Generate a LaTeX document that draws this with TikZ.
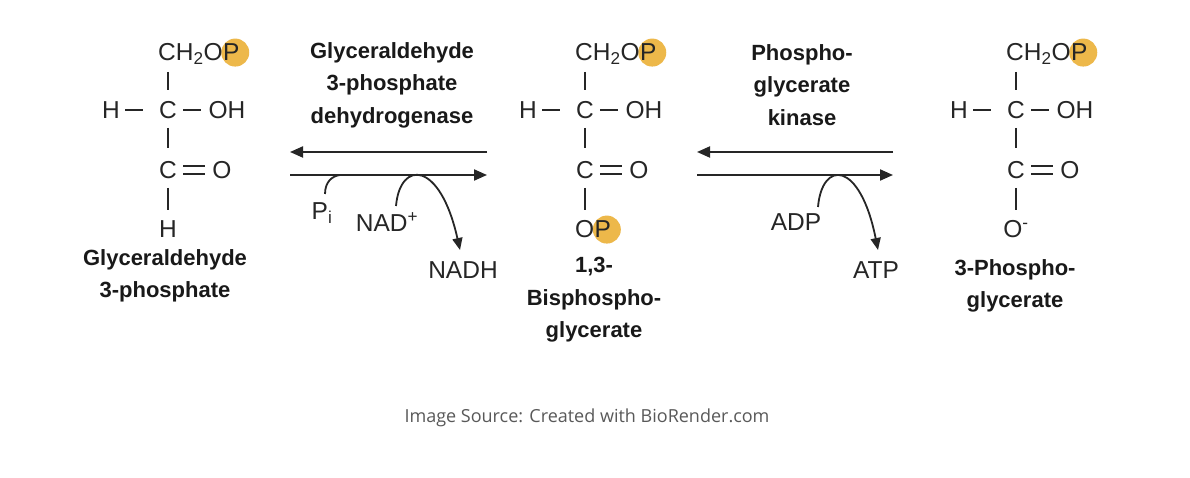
\documentclass[tikz,border=0pt]{standalone}
\usepackage{fontspec}
\setmainfont{Liberation Sans}
\newfontfamily\capfont{Open Sans}
\usetikzlibrary{arrows.meta}
\definecolor{pcol}{HTML}{EDB84A}
\tikzset{
 chem/.style={font=\fontsize{24.5}{26}\selectfont, text=black!85, inner sep=0pt},
 lbl/.style={font=\fontsize{22}{32.5}\selectfont\bfseries, align=center, text=black!90, inner sep=0pt},
 bond/.style={line width=1.3pt, black!85},
 rxn/.style={line width=2pt, black!85, -{Triangle[length=13pt,width=11pt]}},
 side/.style={line width=1.8pt, black!85},
 pdot/.style={circle, fill=pcol, minimum size=28pt, inner sep=0pt}
}
\newcommand{\mol}[3]{%
 \begin{scope}[shift={(#1,0)}]
 \node[chem, anchor=base west, text opacity=0] (top#2) at (-10,61) {CH\textsubscript{2}O};
 \node[chem, anchor=base west, text opacity=0] (tp#2) at (top#2.base east) {P};
 \node[pdot, xshift=4pt] (p#2) at (tp#2.center) {};
 \node[chem, anchor=base west] at (-10,61) {CH\textsubscript{2}O};
 \node[chem] at (tp#2.center) {P};
 \draw[bond] (0,72) -- (0,90);
 \node[chem] (h#2) at (-57,110) {H};
 \draw[bond] (-43,110) -- (-25,110);
 \node[chem] (c#2) at (0,110) {C};
 \draw[bond] (15,110) -- (33,110);
 \node[chem] (oh#2) at (59,110) {OH};
 \draw[bond] (0,128) -- (0,148);
 \node[chem] (cc#2) at (0,170) {C};
 \draw[bond] (15,166) -- (37,166) (15,174) -- (37,174);
 \node[chem] (o#2) at (54,170) {O};
 \draw[bond] (0,188) -- (0,210);
 #3
 \end{scope}}
\begin{document}
\begin{tikzpicture}[x=1pt,y=-1pt]
\path[use as bounding box, fill=white] (0,0) rectangle (1190,478);
\mol{168}{a}{\node[chem] (b1) at (0,229) {H};}
\mol{585}{b}{\node[chem, anchor=base west, text opacity=0] (bo) at (-10,238) {O};
 \node[chem, anchor=base west, text opacity=0] (bp0) at (bo.base east) {P};
 \node[pdot, xshift=4pt] (pb2) at (bp0.center) {};
 \node[chem, anchor=base west] at (-10,238) {O};
 \node[chem] (b2) at (bp0.center) {P};}
\mol{1016}{c}{\node[chem] (b3) at (0,229) {O\textsuperscript{-}};}
\node[lbl] (n1) at (165,276) {Glyceraldehyde\\3-phosphate};
\node[lbl] (n2) at (594,300) {1,3-\\Bisphospho-\\glycerate};
\node[lbl] (n3) at (1015,286) {3-Phospho-\\glycerate};
\node[lbl] (e1) at (392,85) {Glyceraldehyde\\3-phosphate\\dehydrogenase};
\node[lbl] (e2) at (802,85) {Phospho-\\glycerate\\kinase};
\coordinate (a1) at (487,152); \coordinate (a2) at (290,152);
\coordinate (a3) at (290,175); \coordinate (a4) at (487,175);
\draw[rxn] (a1) -- (a2); \draw[rxn] (a3) -- (a4);
\coordinate (k1) at (893,152); \coordinate (k2) at (697,152);
\coordinate (k3) at (697,175); \coordinate (k4) at (893,175);
\draw[rxn] (k1) -- (k2); \draw[rxn] (k3) -- (k4);
\node[chem] (pi) at (322,213) {P\textsubscript{i}};
\node[chem] (nad) at (387,222) {NAD\textsuperscript{+}};
\node[chem] (nadh) at (463,270) {NADH};
\node[chem] (adp) at (796,222) {ADP};
\node[chem] (atp) at (876,270) {ATP};
\coordinate (pi1) at (325,194); \coordinate (pi2) at (340,175);
\draw[side] (pi1) .. controls (325,182) and (332,176) .. (pi2);
\coordinate (na1) at (396,206); \coordinate (na2) at (460,250);
\draw[side,-{Triangle[length=12pt,width=10pt]}] (na1) .. controls (400,160) and (440,160) .. (na2);
\coordinate (ad1) at (818,207); \coordinate (ad2) at (878,250);
\draw[side,-{Triangle[length=12pt,width=10pt]}] (ad1) .. controls (822,160) and (860,160) .. (ad2);
\node[font=\capfont\fontsize{18}{20}\selectfont, text=black!65] (cap) at (587,418) {Image Source: Created with BioRender.com};
\end{tikzpicture}
\end{document}
